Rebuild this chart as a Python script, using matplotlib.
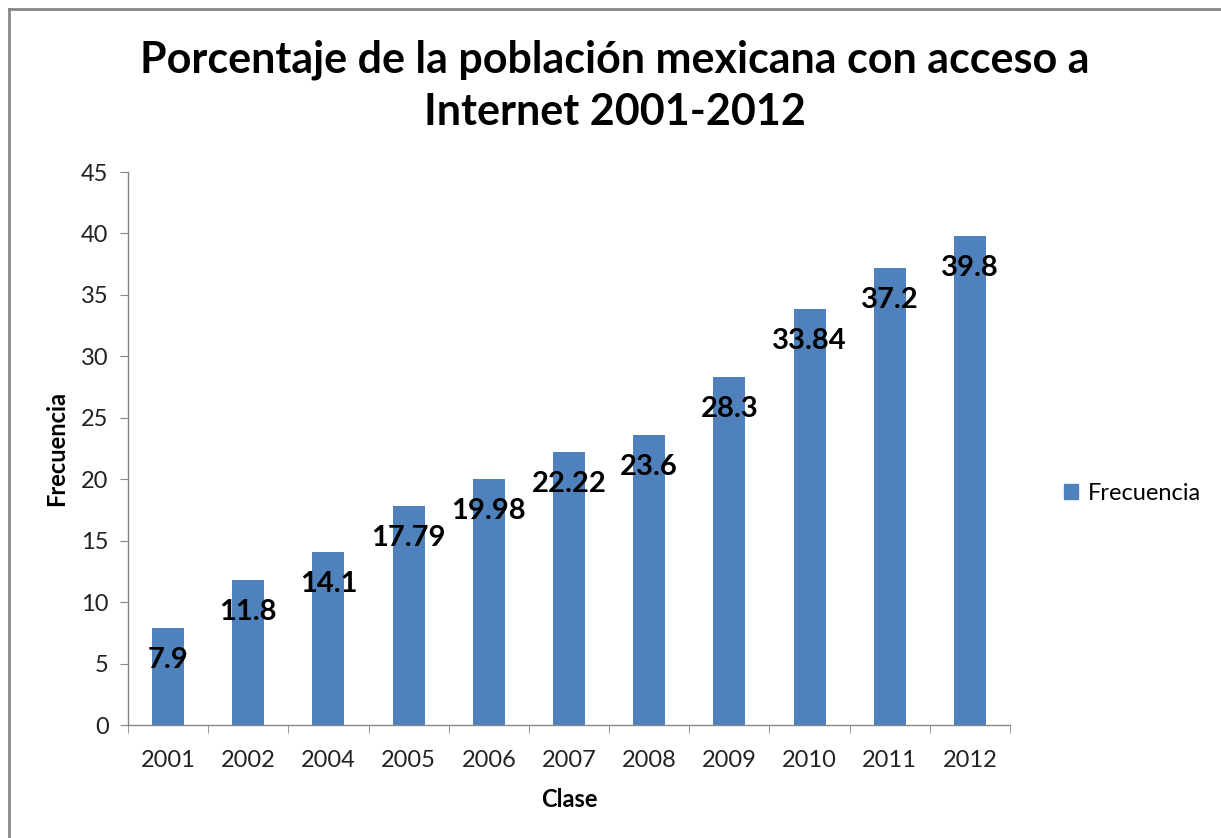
import matplotlib.pyplot as plt
from matplotlib.lines import Line2D
from matplotlib.patches import Patch

plt.rcParams["font.family"] = ["Lato", "DejaVu Sans"]

# Datos
anios = ["2001", "2002", "2004", "2005", "2006", "2007", "2008", "2009", "2010", "2011", "2012"]
frecuencia = [7.9, 11.8, 14.1, 17.79, 19.98, 22.22, 23.6, 28.3, 33.84, 37.2, 39.8]
etiquetas = ["7.9", "11.8", "14.1", "17.79", "19.98", "22.22", "23.6", "28.3", "33.84", "37.2", "39.8"]

azul = "#4f81bd"
gris = "#868686"

fig = plt.figure(figsize=(12.21, 8.38), dpi=100)
ax = fig.add_axes([128 / 1221, 1 - 725 / 838, 882 / 1221, 553 / 838])

x = list(range(len(anios)))
bars = ax.bar(x, frecuencia, width=0.4, color=azul, zorder=2)

# Etiquetas de datos dentro del extremo de cada barra
for xi, v, txt in zip(x, frecuencia, etiquetas):
    ax.annotate(txt, (xi, v), xytext=(0, -23), textcoords="offset points",
                ha="center", va="center", fontsize=21, fontweight="bold", color="black")

ax.set_xlim(-0.5, len(anios) - 0.5)
ax.set_ylim(0, 45)
ax.set_yticks(range(0, 46, 5))
ax.set_xticks(x)
ax.set_xticklabels(anios)
ax.set_xticks([i - 0.5 for i in range(len(anios) + 1)], minor=True)
ax.tick_params(axis="x", which="major", length=0, pad=18, labelsize=17, labelcolor="#222222")
ax.tick_params(axis="x", which="minor", length=6, color=gris, direction="out")
ax.tick_params(axis="y", length=6, color=gris, direction="out", pad=8, labelsize=17, labelcolor="#222222")

for s in ["top", "right"]:
    ax.spines[s].set_visible(False)
for s in ["left", "bottom"]:
    ax.spines[s].set_color(gris)
    ax.spines[s].set_linewidth(1)

ax.set_xlabel("Clase", fontsize=17, fontweight="bold", labelpad=12)
ax.set_ylabel("Frecuencia", fontsize=17, fontweight="bold", labelpad=9)

fig.text(615 / 1221, 1 - 60 / 838, "Porcentaje de la población mexicana con acceso a",
         ha="center", va="center", fontsize=31, fontweight="bold")
fig.text(615 / 1221, 1 - 112 / 838, "Internet 2001-2012",
         ha="center", va="center", fontsize=31, fontweight="bold")

fig.legend(handles=[Patch(color=azul, label="Frecuencia")], loc="center left",
           bbox_to_anchor=(1043 / 1221, 1 - 493 / 838), frameon=False,
           fontsize=17, handlelength=0.6, handleheight=0.6, handletextpad=0.4)

# Borde gris del área del gráfico
fig.add_artist(Line2D([9 / 1221, 9 / 1221], [0, 1 - 9 / 838], transform=fig.transFigure,
                      color=gris, linewidth=2))
fig.add_artist(Line2D([9 / 1221, 1], [1 - 9 / 838, 1 - 9 / 838], transform=fig.transFigure,
                      color=gris, linewidth=2))

fig.savefig("out.png", dpi=100)
